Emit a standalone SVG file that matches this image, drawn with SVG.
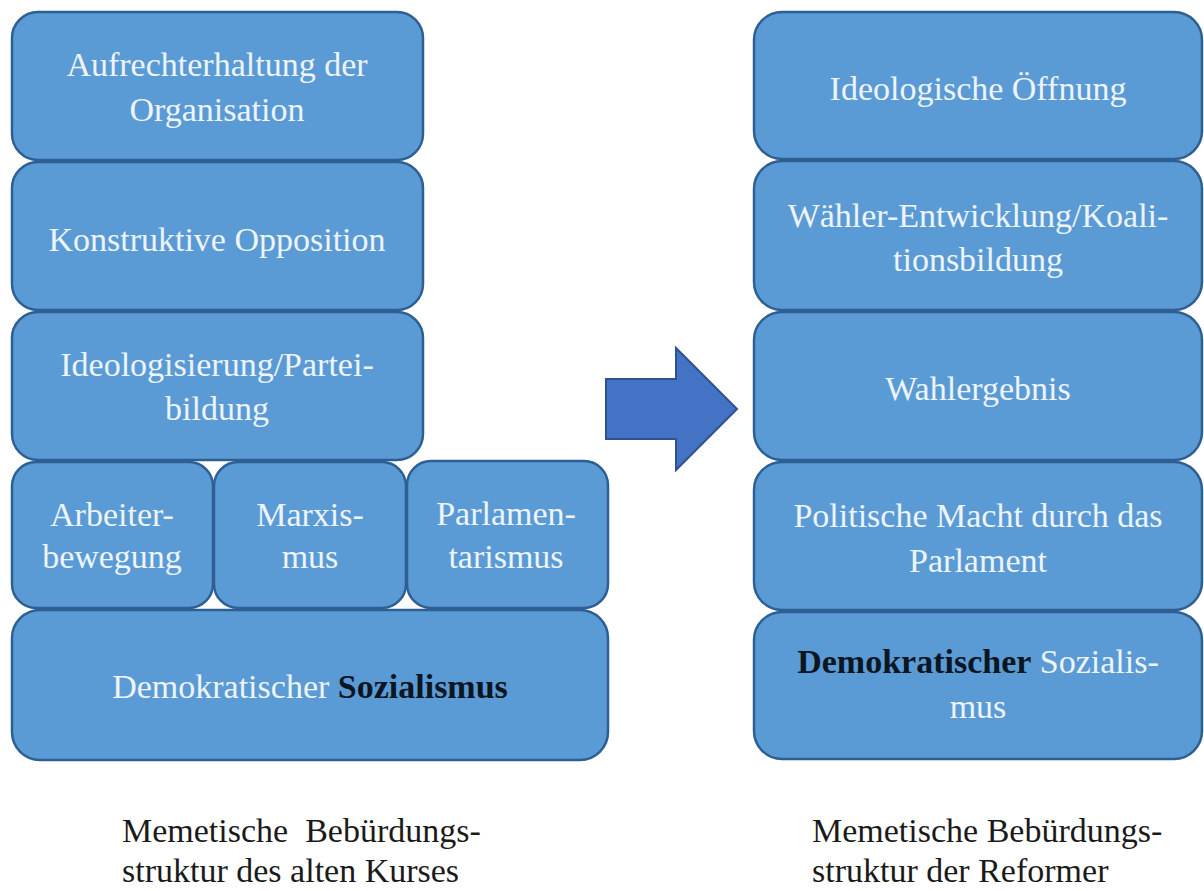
<svg xmlns="http://www.w3.org/2000/svg" width="1204" height="891" viewBox="0 0 1204 891">
<defs>
<style>
.box{fill:#5b9bd5;stroke:#2e5f92;stroke-width:2.5}
.lbl{font-family:'Liberation Serif','Times New Roman',serif;font-size:34px;fill:#eef4fb;text-anchor:middle}
.bd{font-weight:bold;fill:#0b1622}
.cap{font-family:'Liberation Serif','Times New Roman',serif;font-size:34px;fill:#1a1a1a}
</style>
</defs>
<rect width="1204" height="891" fill="#ffffff"/>
<g id="left-1"><rect class="box" x="12" y="12" width="411" height="148" rx="26"/>
<text class="lbl" x="217" y="76">Aufrechterhaltung der</text><text class="lbl" x="217" y="121">Organisation</text></g>
<g id="left-2"><rect class="box" x="12" y="162" width="411" height="148" rx="26"/>
<text class="lbl" x="217" y="251">Konstruktive Opposition</text></g>
<g id="left-3"><rect class="box" x="12" y="312" width="411" height="148" rx="26"/>
<text class="lbl" x="217" y="376">Ideologisierung/Partei-</text><text class="lbl" x="217" y="420">bildung</text></g>
<g id="left-4a"><rect class="box" x="12" y="462" width="201" height="146" rx="24"/>
<text class="lbl" x="112" y="526">Arbeiter-</text><text class="lbl" x="112" y="568">bewegung</text></g>
<g id="left-4b"><rect class="box" x="214" y="462" width="192" height="146" rx="24"/>
<text class="lbl" x="310" y="526">Marxis-</text><text class="lbl" x="310" y="568">mus</text></g>
<g id="left-4c"><rect class="box" x="407" y="461" width="201" height="147" rx="24"/>
<text class="lbl" x="506" y="525">Parlamen-</text><text class="lbl" x="506" y="568">tarismus</text></g>
<g id="left-5"><rect class="box" x="12" y="610" width="596" height="150" rx="28"/>
<text class="lbl" x="310" y="698">Demokratischer <tspan class="bd">Sozialismus</tspan></text></g>
<g id="arrow"><polygon points="606,379 676,379 676,348 737,409 676,470 676,439 606,439" fill="#4472c4" stroke="#2f528f" stroke-width="2"/></g>
<g id="right-1"><rect class="box" x="754" y="12" width="448" height="147" rx="28"/>
<text class="lbl" x="978" y="100">Ideologische Öffnung</text></g>
<g id="right-2"><rect class="box" x="754" y="161" width="448" height="149" rx="28"/>
<text class="lbl" x="978" y="227">Wähler-Entwicklung/Koali-</text><text class="lbl" x="978" y="271">tionsbildung</text></g>
<g id="right-3"><rect class="box" x="754" y="312" width="448" height="148" rx="28"/>
<text class="lbl" x="978" y="400">Wahlergebnis</text></g>
<g id="right-4"><rect class="box" x="754" y="462" width="448" height="148" rx="28"/>
<text class="lbl" x="978" y="527">Politische Macht durch das</text><text class="lbl" x="978" y="572">Parlament</text></g>
<g id="right-5"><rect class="box" x="754" y="612" width="448" height="147" rx="28"/>
<text class="lbl" x="978" y="673"><tspan class="bd">Demokratischer</tspan> Sozialis-</text><text class="lbl" x="978" y="718">mus</text></g>
<g id="captions">
<text class="cap" x="122" y="842" xml:space="preserve">Memetische  Bebürdungs-</text>
<text class="cap" x="122" y="882">struktur des alten Kurses</text>
<text class="cap" x="812" y="842">Memetische Bebürdungs-</text>
<text class="cap" x="812" y="882">struktur der Reformer</text>
</g>
</svg>
